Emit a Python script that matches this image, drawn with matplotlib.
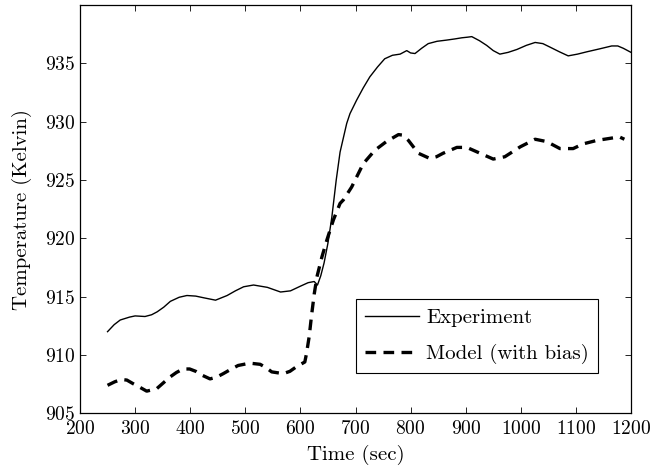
import matplotlib
matplotlib.use("Agg")
import matplotlib.pyplot as plt

# measured temperature (solid)
t_exp = [250, 262, 273, 290, 300, 318, 330, 340, 352, 364, 380, 394, 410, 425, 446, 467,
         482, 497, 515, 540, 564, 582, 600, 614, 625, 631, 637, 643, 650, 657, 665, 672,
         684, 690, 702, 714, 726, 740, 753, 767, 781, 787, 793, 800, 808, 820, 832, 848,
         865, 880, 893, 903, 911, 925, 938, 950, 962, 977, 993, 1010, 1026, 1040, 1053,
         1070, 1086, 1103, 1120, 1143, 1165, 1176, 1186, 1200]
T_exp = [912.0, 912.6, 913.0, 913.25, 913.35, 913.3, 913.45, 913.7, 914.1, 914.6, 914.95,
         915.1, 915.05, 914.9, 914.7, 915.1, 915.5, 915.85, 916.0, 915.8, 915.4, 915.5,
         915.9, 916.2, 916.3, 916.0, 916.8, 917.9, 919.6, 921.8, 925.0, 927.4, 929.85,
         930.7, 931.85, 932.9, 933.85, 934.7, 935.4, 935.7, 935.8, 935.95, 936.1, 935.9,
         935.85, 936.3, 936.7, 936.9, 937.0, 937.1, 937.2, 937.25, 937.3, 936.95, 936.55,
         936.1, 935.8, 935.95, 936.2, 936.55, 936.8, 936.7, 936.4, 936.0, 935.65, 935.8,
         936.0, 936.25, 936.5, 936.5, 936.3, 935.95]

# model prediction (dashed)
t_mod = [250, 263, 275, 285, 296, 306, 321, 339, 351, 363, 375, 387, 399, 410, 420, 436,
         448, 460, 473, 487, 508, 527, 538, 548, 569, 581, 593, 608, 611, 616, 620, 625,
         630, 639, 648, 660, 672, 678, 693, 714, 735, 756, 778, 786, 796, 814, 835, 847,
         859, 884, 902, 926, 950, 971, 999, 1026, 1047, 1071, 1095, 1113, 1138, 1165,
         1179, 1188]
T_mod = [907.4, 907.7, 907.9, 907.85, 907.55, 907.3, 906.9, 907.1, 907.6, 908.1, 908.5,
         908.8, 908.8, 908.6, 908.3, 907.95, 908.1, 908.4, 908.75, 909.1, 909.3, 909.2,
         908.9, 908.55, 908.4, 908.6, 909.0, 909.4, 910.1, 911.6, 913.3, 915.2, 916.7,
         918.4, 919.85, 921.6, 923.0, 923.3, 924.4, 926.4, 927.55, 928.3, 928.9, 928.85,
         928.4, 927.3, 926.85, 927.0, 927.3, 927.8, 927.8, 927.3, 926.8, 927.0, 927.85,
         928.5, 928.3, 927.7, 927.7, 928.1, 928.4, 928.6, 928.7, 928.5]

plt.rcParams.update({
    "font.family": "serif",
    "font.serif": ["cmr10", "DejaVu Serif"],
    "mathtext.fontset": "cm",
    "axes.formatter.use_mathtext": True,
    "font.size": 15,
})

fig = plt.figure(figsize=(6.52, 4.67), dpi=100)
ax = fig.add_axes([0.1227, 0.115, 0.8451, 0.874])

ax.plot(t_exp, T_exp, color="black", lw=1.0, label="Experiment")
ax.plot(t_mod, T_mod, color="black", lw=2.4, dashes=(3.2, 2.2), label="Model (with bias)")

ax.set_xlim(200, 1200)
ax.set_ylim(905, 940)
ax.set_xticks(range(200, 1201, 100))
ax.set_yticks(range(905, 936, 5))
ax.tick_params(direction="in", top=True, right=True, length=4, width=0.6, labelsize=14)
ax.tick_params(axis="x", pad=5)
for s in ax.spines.values():
    s.set_linewidth(0.9)
ax.set_xlabel("Time (sec)", fontsize=15, labelpad=5)
ax.set_ylabel("Temperature (Kelvin)", fontsize=15, labelpad=9)

leg = ax.legend(loc="lower right", bbox_to_anchor=(0.941, 0.098), borderaxespad=0,
                fancybox=False, framealpha=1, edgecolor="black", handlelength=2.6,
                handletextpad=0.35, fontsize=15, borderpad=0.45, labelspacing=0.8)
leg.get_frame().set_linewidth(0.8)

fig.savefig("out.png", dpi=100)
